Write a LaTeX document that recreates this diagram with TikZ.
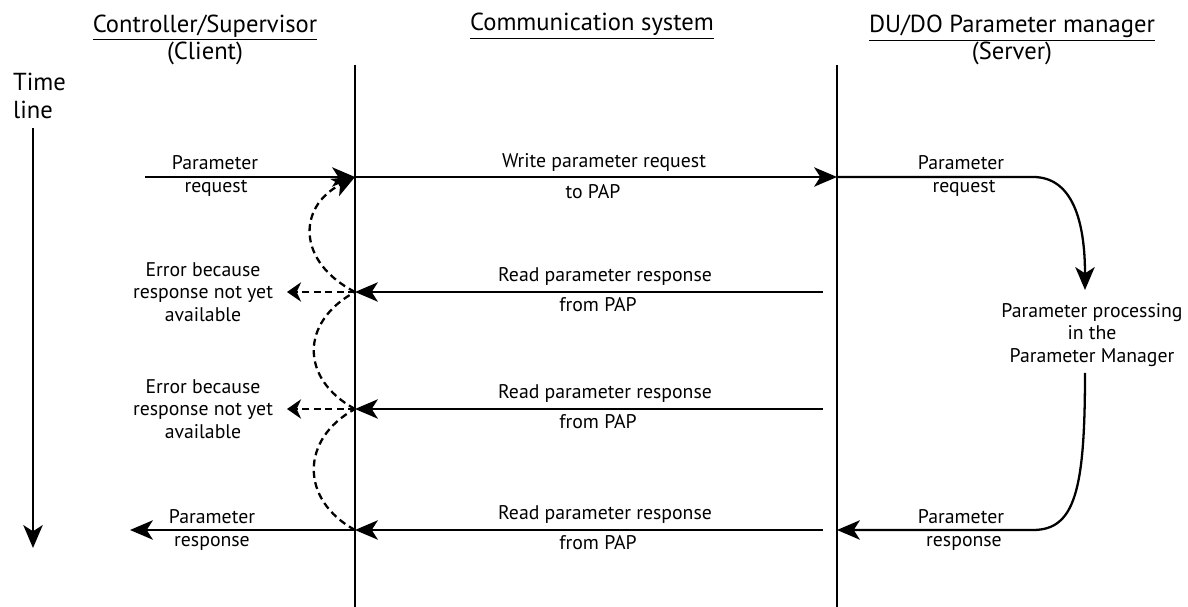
\documentclass[tikz,border=0pt]{standalone}
\usepackage{fontspec}
\setmainfont{PT Sans}
\usetikzlibrary{arrows.meta}

\begin{document}
\begin{tikzpicture}[x=0.02cm,y=-0.02cm,line width=1.3pt,
    tip/.style={-{Stealth[length=13pt,width=11pt,inset=3.5pt]}},
    errtip/.style={dash pattern=on 4pt off 2.5pt,-{Stealth[length=8pt,width=11pt,inset=2.5pt]}},
    retry/.style={dash pattern=on 4pt off 2.5pt},
    head/.style={font=\fontsize{14}{15.5}\selectfont,align=center,inner sep=0pt},
    lbl/.style={font=\fontsize{11.25}{12.8}\selectfont,align=center,inner sep=0pt}]
    \useasboundingbox (0,0) rectangle (1188,607);

    % headings
    \node[head] (client) at (205,40) {\underline{Controller/Supervisor}\\(Client)};
    \node[head] (comm) at (592,26) {\underline{Communication system}};
    \node[head] (server) at (1012,40) {\underline{DU/DO Parameter manager}\\(Server)};

    % time line
    \node[head,align=left,anchor=west] (time) at (12,96) {Time\\line};
    \coordinate (tstart) at (33,128);
    \coordinate (tend) at (33,548);
    \draw[tip] (tstart) -- (tend);

    % lanes
    \coordinate (ctop) at (355,65);
    \coordinate (cbot) at (355,607);
    \coordinate (stop) at (837,65);
    \coordinate (sbot) at (837,607);
    \draw (ctop) -- (cbot);
    \draw (stop) -- (sbot);
    \foreach \n/\y in {1/177,2/292,3/409,4/530} {
        \coordinate (c\n) at (355,\y);
        \coordinate (s\n) at (837,\y);
        \coordinate (q\n) at (823,\y);
    }

    % request
    \coordinate (reqin) at (145,177);
    \draw[tip] (reqin) -- (c1);
    \node[lbl] (reqa) at (215,163) {Parameter};
    \node[lbl] (reqb) at (216,188) {request};
    \draw[tip] (c1) -- (s1);
    \node[lbl] (wra) at (604,162) {Write parameter request};
    \node[lbl] (wrb) at (593,192) {to PAP};
    \node[lbl] (sreqa) at (961,163) {Parameter};
    \node[lbl] (sreqb) at (964,188) {request};

    % processing in the server
    \node[lbl] (proc) at (1092,335) {Parameter processing\\in the\\Parameter Manager};
    \coordinate (srvturn) at (1033,177);
    \coordinate (procin) at (1085,290);
    \coordinate (procout) at (1085,373);
    \coordinate (srvret) at (1033,530);
    \draw[tip] (s1) -- (srvturn) .. controls (1072,177) and (1085,220) .. (procin);
    \draw[tip] (procout) .. controls (1085,490) and (1075,530) .. (srvret) -- (s4);
    \node[lbl] (sresa) at (961,517) {Parameter};
    \node[lbl] (sresb) at (964,543) {response};

    % polling
    \foreach \n/\y in {2/292,3/409,4/530} {
        \draw[tip] (q\n) -- (c\n);
        \node[lbl] (rd\n) at (605,\y-16) {Read parameter response};
        \node[lbl] (fr\n) at (598,\y+13) {from PAP};
    }
    \foreach \n/\y in {2/292,3/409} {
        \coordinate (err\n) at (287,\y);
        \draw[errtip] (c\n) -- (err\n);
        \node[lbl] (errtxt\n) at (203,\y) {Error because\\response not yet\\available};
    }
    \draw[retry] (c4) .. controls +(-55,-30) and +(-55,30) .. (c3);
    \draw[retry] (c3) .. controls +(-55,-30) and +(-55,30) .. (c2);
    \draw[retry,tip] (c2) .. controls +(-58,-30) and +(-58,30) .. (c1);

    % response
    \coordinate (respout) at (130,530);
    \draw[tip] (c4) -- (respout);
    \node[lbl] (respa) at (212,517) {Parameter};
    \node[lbl] (respb) at (212,543) {response};
\end{tikzpicture}
\end{document}
